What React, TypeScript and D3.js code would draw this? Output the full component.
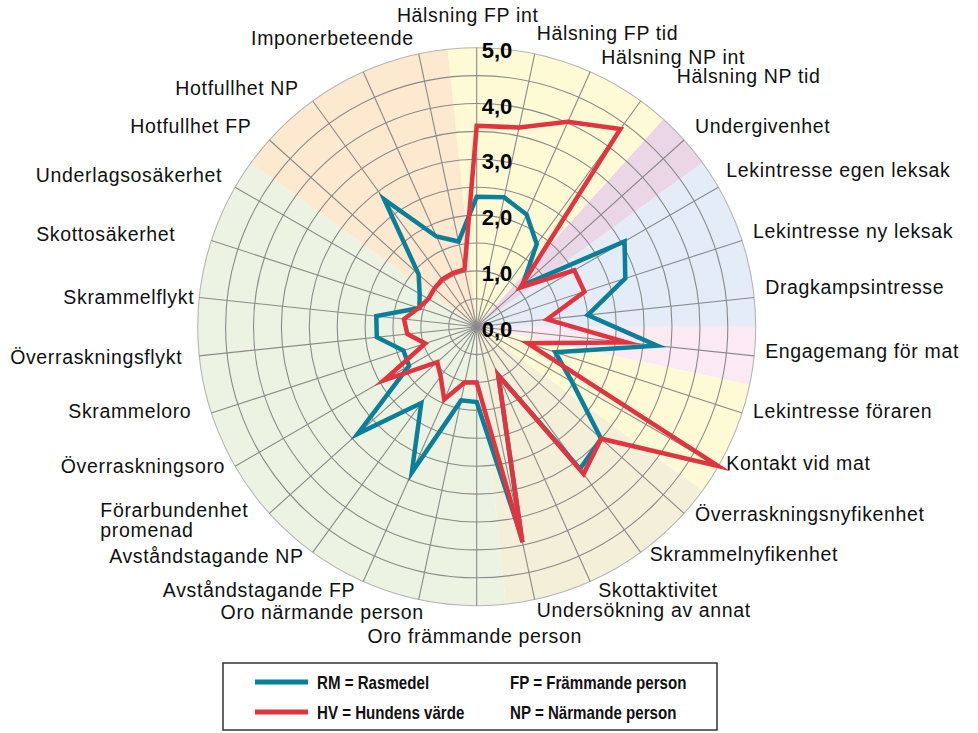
import React from "react";
import * as d3 from "d3";

// one entry per spoke, clockwise from the top
const categories = [
  "Hälsning FP int",
  "Hälsning FP tid",
  "Hälsning NP int",
  "Hälsning NP tid",
  "Undergivenhet",
  "Lekintresse egen leksak",
  "Lekintresse ny leksak",
  "Dragkampsintresse",
  "Engagemang för mat",
  "Lekintresse föraren",
  "Kontakt vid mat",
  "Överraskningsnyfikenhet",
  "Skrammelnyfikenhet",
  "Skottaktivitet",
  "Undersökning av annat",
  "Oro främmande person",
  "Oro närmande person",
  "Avståndstagande FP",
  "Avståndstagande NP",
  "Förarbundenhet\npromenad",
  "Överraskningsoro",
  "Skrammeloro",
  "Överraskningsflykt",
  "Skrammelflykt",
  "Skottosäkerhet",
  "Underlagsosäkerhet",
  "Hotfullhet FP",
  "Hotfullhet NP",
  "",
  "Imponerbeteende",
];

const groups = [
  "halsning", "halsning", "halsning", "halsning",
  "undergivenhet",
  "lek", "lek", "lek",
  "mat",
  "kontakt", "kontakt",
  "nyfikenhet", "nyfikenhet", "nyfikenhet", "nyfikenhet",
  "oro", "oro", "oro", "oro", "oro", "oro", "oro", "oro", "oro", "oro", "oro",
  "hot", "hot", "hot", "hot",
];

const rasmedel = [
  2.33, 2.37, 2.2, 1.83, 1.1, 3.06, 2.8, 2.0, 3.25, 1.48,
  1.97, 3.0, 3.15, 0.95, 3.85, 1.35, 1.35, 2.86, 1.69, 2.87,
  1.4, 1.38, 1.8, 1.81, 1.08, 1.18, 1.4, 2.82, 1.77, 1.56,
];

const hundensVarde = [
  3.6, 3.65, 4.02, 4.38, 1.05, 2.02, 2.03, 1.27, 2.7, 0.96,
  5.0, 3.0, 3.26, 0.95, 3.95, 1.0, 1.02, 1.43, 1.1, 0.95,
  1.92, 0.97, 1.25, 1.31, 1.09, 1.0, 1.02, 1.05, 1.05, 1.05,
];

const tickValues = [0, 1, 2, 3, 4, 5];
const tickLabels = ["0,0", "1,0", "2,0", "3,0", "4,0", "5,0"];
const ringValues = d3.range(0.5, 5.01, 0.5);

const legendSeries = ["RM = Rasmedel", "HV = Hundens värde"];
const legendNotes = ["FP = Främmande person", "NP = Närmande person"];

// styling
const groupColors: Record<string, string> = {
  halsning: "#fffad6",
  undergivenhet: "#ead6e6",
  lek: "#e3ecf7",
  mat: "#fbeaf3",
  kontakt: "#fffad6",
  nyfikenhet: "#f4efd9",
  oro: "#edf3e3",
  hot: "#fde8d0",
};
const teal = "#0a7f99";
const red = "#e2343f";

// hand placed label nudges [dx, dy, anchor] from the spoke end
const labelNudge: [number, number, string][] = [
  [-9, -26, "middle"], [2, -14, "start"], [11, -8, "start"], [36, -18, "start"],
  [11, -7, "start"], [8, -10, "start"], [11, -2, "start"], [11, -4, "start"],
  [11, 2, "start"], [11, 5, "start"], [8, 4, "start"], [11, 8, "start"],
  [9, 9, "start"], [8, 15, "start"], [2, 17, "start"], [-2, 37, "middle"],
  [5, 19, "end"], [-8, 15, "end"], [-9, 11, "end"], [-169, 4, "start"],
  [-10, 7, "end"], [-20, 5, "end"], [-17, 8, "end"], [-5, 6, "end"],
  [-36, 1, "end"], [-13, -5, "end"], [-18, -7, "end"], [-14, -6, "end"],
  [0, 0, "end"], [-5, -9, "end"],
];

const W = 978;
const H = 733;
const cx = 476.7;
const cy = 326.7;
const R = 279;
const font = "'Liberation Sans', Arial, Helvetica, sans-serif";

export default function App() {
  const n = categories.length;
  const r = d3.scaleLinear().domain([0, 5]).range([0, R]);
  const angle = d3.scaleLinear().domain([0, n]).range([0, 2 * Math.PI]);
  const step = angle(1);

  // merge neighbouring spokes of the same group into one wedge
  const runs: { g: string; s: number; e: number }[] = [];
  groups.forEach((g, i) => {
    const last = runs[runs.length - 1];
    if (last && last.g === g) last.e = i;
    else runs.push({ g, s: i, e: i });
  });
  const arc = d3.arc<any>();

  const radar = d3
    .lineRadial<number>()
    .angle((_, i) => angle(i))
    .radius((d) => r(d))
    .curve(d3.curveLinearClosed);

  const pt = (i: number, rad: number) => [
    Math.sin(angle(i)) * rad,
    -Math.cos(angle(i)) * rad,
  ];

  return (
    <svg
      width={W}
      height={H}
      style={{ position: "absolute", left: 0, top: 0, background: "#fff" }}
    >
      <g transform={`translate(${cx},${cy})`}>
        {runs.map((run, k) => (
          <path
            key={k}
            d={
              arc({
                innerRadius: 0,
                outerRadius: R,
                startAngle: angle(run.s) - step / 2,
                endAngle: angle(run.e) + step / 2,
              }) as string
            }
            fill={groupColors[run.g]}
          />
        ))}
        {ringValues.map((v) => (
          <circle
            key={v}
            r={r(v)}
            fill="none"
            stroke={v === 5 ? "#b5b5b5" : "#8a8a8a"}
            strokeWidth={1.1}
          />
        ))}
        {categories.map((_, i) => {
          const [x, y] = pt(i, R);
          return (
            <line key={i} x1={0} y1={0} x2={x} y2={y} stroke="#8a8a8a" strokeWidth={1.1} />
          );
        })}
        <path
          d={radar(rasmedel) as string}
          fill="none"
          stroke={teal}
          strokeWidth={4.5}
          strokeLinejoin="miter"
          strokeMiterlimit={10}
        />
        <path
          d={radar(hundensVarde) as string}
          fill="none"
          stroke={red}
          strokeWidth={4.5}
          strokeLinejoin="miter"
          strokeMiterlimit={10}
        />
        {tickValues.map((v, k) => (
          <text
            key={v}
            x={5}
            y={-r(v) + 10}
            fontFamily={font}
            fontWeight="bold"
            fontSize={22}
            fill="#000"
          >
            {tickLabels[k]}
          </text>
        ))}
        {categories.map((c, i) => {
          if (!c) return null;
          const [x, y] = pt(i, R);
          const [dx, dy, anchor] = labelNudge[i];
          const lines = c.split("\n");
          return (
            <text
              key={c}
              x={x + dx}
              y={y + dy}
              textAnchor={anchor}
              fontFamily={font}
              fontSize={19.5}
              letterSpacing={0.65}
              fill="#111"
            >
              {lines.map((l, j) => (
                <tspan key={j} x={x + dx} dy={j === 0 ? 0 : 20}>
                  {l}
                </tspan>
              ))}
            </text>
          );
        })}
      </g>

      <g transform="translate(223,663)">
        <rect width={494} height={67} fill="#fff" stroke="#333" strokeWidth={1.5} />
        {legendSeries.map((s, k) => (
          <g key={s} transform={`translate(0,${19 + k * 30})`}>
            <line x1={32} x2={85} y1={0} y2={0} stroke={k === 0 ? teal : red} strokeWidth={5} />
            <text
              transform="translate(94,7) scale(0.84,1)"
              fontFamily={font}
              fontWeight="bold"
              fontSize={18}
              fill="#111"
            >
              {s}
            </text>
          </g>
        ))}
        {legendNotes.map((s, k) => (
          <text
            key={s}
            transform={`translate(287,${26 + k * 30}) scale(0.84,1)`}
            fontFamily={font}
            fontWeight="bold"
            fontSize={18}
            fill="#111"
          >
            {s}
          </text>
        ))}
      </g>
    </svg>
  );
}
